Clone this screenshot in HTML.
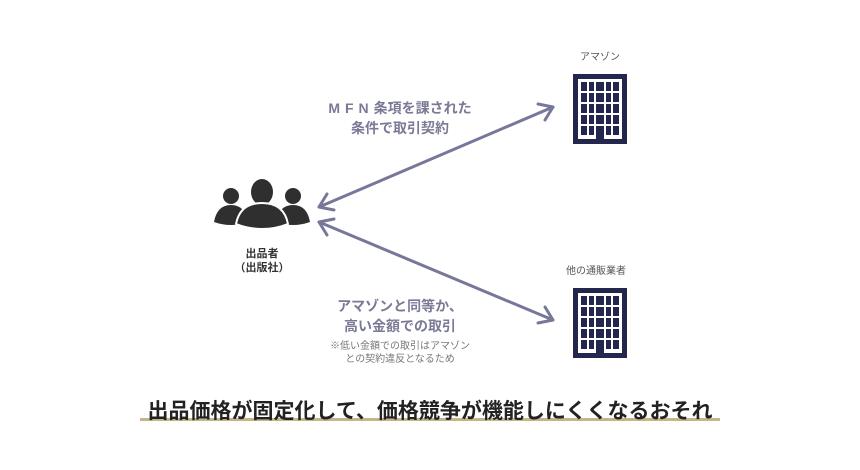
<!DOCTYPE html>
<html><head><meta charset="utf-8"><style>
body{margin:0;background:#fff;width:860px;height:470px;overflow:hidden;position:relative;font-family:"Liberation Sans","Noto Sans CJK JP",sans-serif}
.t{position:absolute;white-space:nowrap;text-align:center}
</style></head><body>
<svg width="860" height="470" style="position:absolute;left:0;top:0">
<defs>
<g id="bld">
<rect x="0" y="0" width="54" height="70" fill="#23264d"/>
<rect x="5" y="5" width="44" height="60" fill="#fff"/>
<g fill="#23264d">
<rect x="8" y="8" width="6" height="9"/><rect x="16" y="8" width="5" height="9"/><rect x="23" y="8" width="8" height="9"/><rect x="33" y="8" width="5" height="9"/><rect x="40" y="8" width="6" height="9"/>
<rect x="8" y="19" width="6" height="9"/><rect x="16" y="19" width="5" height="9"/><rect x="23" y="19" width="8" height="9"/><rect x="33" y="19" width="5" height="9"/><rect x="40" y="19" width="6" height="9"/>
<rect x="8" y="30" width="6" height="9"/><rect x="16" y="30" width="5" height="9"/><rect x="23" y="30" width="8" height="9"/><rect x="33" y="30" width="5" height="9"/><rect x="40" y="30" width="6" height="9"/>
<rect x="8" y="41" width="6" height="9"/><rect x="16" y="41" width="5" height="9"/><rect x="23" y="41" width="8" height="9"/><rect x="33" y="41" width="5" height="9"/><rect x="40" y="41" width="6" height="9"/>
<rect x="8" y="52" width="6" height="9"/><rect x="16" y="52" width="5" height="9"/><rect x="23" y="52" width="8" height="14"/><rect x="33" y="52" width="5" height="9"/><rect x="40" y="52" width="6" height="9"/>
</g>
</g>
</defs>
<use href="#bld" x="573" y="74"/>
<use href="#bld" x="573" y="288"/>
<g stroke="#77779a" stroke-width="3" fill="none" stroke-linecap="round" stroke-linejoin="round">
<line x1="319" y1="207" x2="553" y2="107"/>
<polyline points="538,104 553,107 545,120"/>
<polyline points="327,194 319,207 334,210"/>
<line x1="319" y1="222" x2="553" y2="320"/>
<polyline points="334,219 319,222 327,235"/>
<polyline points="545,307 553,320 538,323"/>
</g>
<g fill="#2f2f2f">
<circle cx="231" cy="196" r="8"/>
<path d="M214 222 Q217 205 231 205 Q245 205 248 222 Q231 228 214 222Z"/>
<circle cx="293" cy="196" r="8"/>
<path d="M276 222 Q279 205 293 205 Q307 205 310 222 Q293 228 276 222Z"/>
<ellipse cx="262" cy="192" rx="13" ry="15" fill="#fff"/>
<ellipse cx="262" cy="192" rx="11" ry="13"/>
<path d="M236 224 Q240 203 262 203 Q284 203 288 224 Q262 234 236 224Z" stroke="#fff" stroke-width="2"/>
</g>
<rect x="140" y="418" width="580" height="3" fill="#c5b587"/>
</svg>
<div class="t" style="left:580px;top:48px;font-size:10px;color:#555">アマゾン</div>
<div class="t" style="left:566px;top:262px;font-size:10px;color:#555">他の通販業者</div>
<div class="t" style="left:230px;top:247px;width:64px;font-size:11px;font-weight:bold;color:#333;line-height:14px">出品者<br>（出版社）</div>
<div class="t" style="left:320px;top:98px;width:160px;font-size:14px;font-weight:bold;color:#7a7a96;line-height:20px"><span style="letter-spacing:5px">MFN</span>条項を課された<br>条件で取引契約</div>
<div class="t" style="left:320px;top:296px;width:160px;font-size:14px;font-weight:bold;color:#7a7a96;line-height:20px">アマゾンと同等か、<br>高い金額での取引</div>
<div class="t" style="left:310px;top:340px;width:180px;font-size:10px;color:#777;line-height:13px">※低い金額での取引はアマゾン<br>との契約違反となるため</div>
<div class="t" style="left:140px;top:395px;width:580px;font-size:21px;font-weight:bold;color:#222">出品価格が固定化して、価格競争が機能しにくくなるおそれ</div>
</body></html>
